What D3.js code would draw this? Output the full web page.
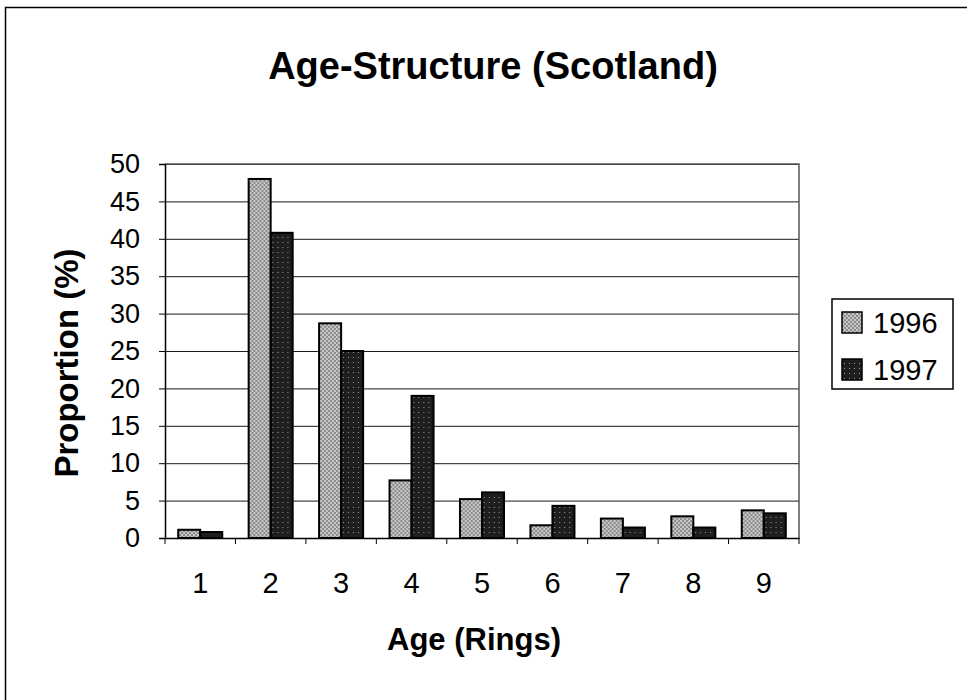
<!DOCTYPE html>
<html>
<head>
<meta charset="utf-8">
<script src="https://cdn.jsdelivr.net/npm/d3@7"></script>
<style>
	body { margin: 0; background: #fff; }
	svg text { font-family: "Liberation Sans", Arial, sans-serif; fill: #000; }
</style>
</head>
<body>
<svg id="chart"></svg>
<script>
// Chart data
const ages = ["1", "2", "3", "4", "5", "6", "7", "8", "9"];
const years = ["1996", "1997"];
const values1996 = [1.1, 48.0, 28.7, 7.7, 5.2, 1.7, 2.6, 2.9, 3.7];
const values1997 = [0.8, 40.8, 25.0, 19.0, 6.1, 4.3, 1.4, 1.4, 3.3];
const yTicks = [0, 5, 10, 15, 20, 25, 30, 35, 40, 45, 50];

// SVG and dimensions
const width = 967;
const height = 700;
const svg = d3.select("#chart").attr("width", width).attr("height", height);

// Fill patterns, like the scanned hatching
const defs = svg.append("defs");
const p96 = defs.append("pattern").attr("id", "fill1996")
	.attr("width", 4).attr("height", 4).attr("patternUnits", "userSpaceOnUse");
p96.append("rect").attr("width", 4).attr("height", 4).attr("fill", "#c8c8c8");
p96.append("rect").attr("width", 2).attr("height", 2).attr("fill", "#8a8a8a");
p96.append("rect").attr("x", 2).attr("y", 2).attr("width", 2).attr("height", 2).attr("fill", "#8a8a8a");

const p97 = defs.append("pattern").attr("id", "fill1997")
	.attr("width", 5).attr("height", 5).attr("patternUnits", "userSpaceOnUse");
p97.append("rect").attr("width", 5).attr("height", 5).attr("fill", "#1e1e1e");
p97.append("rect").attr("x", 2).attr("y", 2).attr("width", 1).attr("height", 1).attr("fill", "#9a9a9a");

const fills = { "1996": "url(#fill1996)", "1997": "url(#fill1997)" };

// Outer frame
svg.append("rect")
	.attr("x", 5.5).attr("y", 7.5)
	.attr("width", width + 10).attr("height", height + 10)
	.attr("fill", "none").attr("stroke", "#000").attr("stroke-width", 1.5);

// Plot area
const plot = { left: 165, right: 799, top: 164, bottom: 538 };

const x = d3.scaleBand().domain(ages).range([plot.left, plot.right]).paddingInner(0).paddingOuter(0);
const xInner = d3.scaleBand().domain(years).range([0, x.bandwidth()]).paddingInner(0).paddingOuter(0.6);
const y = d3.scaleLinear().domain([0, 50]).range([plot.bottom, plot.top]);

// Gridlines
svg.append("g")
	.selectAll("line")
	.data(yTicks.filter((d) => d > 0))
	.enter()
	.append("line")
	.attr("x1", plot.left).attr("x2", plot.right)
	.attr("y1", (d) => y(d) + 0.5).attr("y2", (d) => y(d) + 0.5)
	.attr("stroke", "#1a1a1a").attr("stroke-width", 1);

// Plot border (top and right)
svg.append("path")
	.attr("d", `M${plot.left},${plot.top}H${plot.right}V${plot.bottom}`)
	.attr("fill", "none").attr("stroke", "#555").attr("stroke-width", 1.5);

// Bars
const rows = ages.map((a, i) => ({ age: a, "1996": values1996[i], "1997": values1997[i] }));
svg.append("g")
	.selectAll("g")
	.data(rows)
	.enter()
	.append("g")
	.attr("transform", (d) => `translate(${x(d.age)},0)`)
	.selectAll("rect")
	.data((d) => years.map((yr) => ({ year: yr, value: d[yr] })))
	.enter()
	.append("rect")
	.attr("x", (d) => xInner(d.year))
	.attr("y", (d) => y(d.value))
	.attr("width", xInner.bandwidth())
	.attr("height", (d) => y(0) - y(d.value))
	.attr("fill", (d) => fills[d.year])
	.attr("stroke", "#000")
	.attr("stroke-width", 2);

// Axes
const yAxis = svg.append("g")
	.attr("transform", `translate(${plot.left},0)`)
	.call(d3.axisLeft(y).tickValues(yTicks).tickSize(6).tickPadding(19));
yAxis.selectAll("text").attr("font-size", "27px");

const xAxis = svg.append("g")
	.attr("transform", `translate(0,${plot.bottom})`)
	.call(d3.axisBottom(x).tickSize(0).tickPadding(34));
xAxis.selectAll("text").attr("font-size", "29px");

// Category dividers on the x axis
svg.append("g")
	.selectAll("line")
	.data(ages.concat(["end"]))
	.enter()
	.append("line")
	.attr("x1", (d, i) => plot.left + i * x.step())
	.attr("x2", (d, i) => plot.left + i * x.step())
	.attr("y1", plot.bottom).attr("y2", plot.bottom + 6)
	.attr("stroke", "#000");

svg.selectAll(".domain").attr("stroke", "#000").attr("stroke-width", 1.5);

// Titles
svg.append("text")
	.attr("x", 493).attr("y", 79)
	.attr("text-anchor", "middle")
	.attr("font-size", "38px").attr("font-weight", "bold")
	.text("Age-Structure (Scotland)");

svg.append("text")
	.attr("x", 474).attr("y", 650)
	.attr("text-anchor", "middle")
	.attr("font-size", "31px").attr("font-weight", "bold")
	.text("Age (Rings)");

svg.append("text")
	.attr("transform", "translate(78,363) rotate(-90)")
	.attr("text-anchor", "middle")
	.attr("font-size", "33px").attr("font-weight", "bold")
	.text("Proportion (%)");

// Legend
const legend = svg.append("g").attr("id", "legend").attr("transform", "translate(832,299)");
legend.append("rect")
	.attr("width", 121).attr("height", 90)
	.attr("fill", "#fff").attr("stroke", "#000").attr("stroke-width", 1.5);

const items = legend.selectAll("g.item")
	.data(years)
	.enter()
	.append("g")
	.attr("class", "item")
	.attr("transform", (d, i) => `translate(0,${i * 47})`);
items.append("rect")
	.attr("x", 10).attr("y", 13)
	.attr("width", 20).attr("height", 21)
	.attr("fill", (d) => fills[d])
	.attr("stroke", "#000").attr("stroke-width", 1.5);
items.append("text")
	.attr("x", 41).attr("y", 34)
	.attr("font-size", "29px")
	.text((d) => d);
</script>
</body>
</html>
